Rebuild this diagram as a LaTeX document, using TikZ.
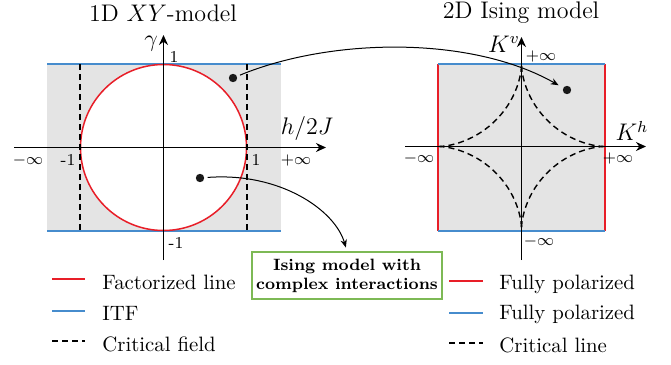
\documentclass[tikz,border=0pt]{standalone}
\usetikzlibrary{arrows.meta}
\definecolor{cred}{RGB}{232,30,40}
\definecolor{cblue}{RGB}{70,140,205}
\definecolor{cgray}{RGB}{228,228,228}
\definecolor{cgreen}{RGB}{125,185,85}
\begin{document}
\begin{tikzpicture}[x=0.5pt,y=-0.5pt,
  lw/.style={line width=0.75pt},
  axis/.style={line width=0.75pt,-{Stealth[length=5pt,width=4.5pt]}},
  crit/.style={line width=0.7pt,dash pattern=on 3pt off 2pt},
  dot/.style={circle,fill=black!90,inner sep=0pt,minimum size=4.2pt},
  conn/.style={line width=0.5pt,-{Stealth[length=4pt,width=3.2pt]}},
  title/.style={font=\fontsize{12}{14}\selectfont},
  lab/.style={font=\fontsize{11.5}{13}\selectfont,inner sep=0pt},
  tick/.style={font=\fontsize{8.3}{10}\selectfont,inner sep=0pt},
  legtext/.style={font=\fontsize{10.4}{12}\selectfont,anchor=west,inner sep=0pt},
  box/.style={draw=cgreen,line width=0.6pt,minimum width=95pt,minimum height=23.5pt,inner sep=0pt,align=center,font=\fontsize{8.2}{9.5}\selectfont\bfseries}
]
\useasboundingbox (0,0) rectangle (671,365);

% ---------- left panel ----------
\fill[cgray] (47,64) rectangle (281,231);
\fill[white] (163.5,147.5) circle (41.5pt);
\draw[cblue,lw] (47,64) -- (281,64);
\draw[cblue,lw] (47,231) -- (281,231);
\draw[cred,lw] (163.5,147.5) circle (41.5pt);
\draw[crit] (80,64) -- (80,231);
\draw[crit] (247,64) -- (247,231);
\draw[axis] (14,147.5) -- (326,147.5);
\draw[axis] (163.5,260) -- (163.5,35);

\node[title] (t1) at (163,13) {1D $XY$-model};
\node[lab] (gam) at (151,44) {$\gamma$};
\node[tick] (l1a) at (174,57) {1};
\node[lab] (hJ) at (307,128) {$h/2J$};
\node[tick] (lmi) at (28,160) {$-\infty$};
\node[tick] (lm1) at (68,160) {-1};
\node[tick] (lp1) at (256,160) {1};
\node[tick] (lpi) at (296,160) {$+\infty$};
\node[tick] (lm1b) at (176,243) {-1};

% ---------- right panel ----------
\fill[cgray] (438,64) rectangle (605,231);
\foreach \sx/\sy in {1/1,-1/1,-1/-1,1/-1}{
  \draw[crit] plot[domain=0.5:89.5,samples=70]
    ({521.5+\sx*83*cos(\x)^3.33},{146.5-\sy*82*sin(\x)^3.33});
}
\draw[cred,lw] (438,64) -- (438,231);
\draw[cred,lw] (605,64) -- (605,231);
\draw[cblue,lw] (438,64) -- (605,64);
\draw[cblue,lw] (438,231) -- (605,231);
\draw[axis] (405,146.5) -- (646,146.5);
\draw[axis] (521.5,260) -- (521.5,37);

\node[title] (t2) at (521,13) {2D Ising model};
\node[lab] (Kv) at (504,44) {$K^v$};
\node[tick] (rpi) at (541,56) {$+\infty$};
\node[lab] (Kh) at (632,131) {$K^h$};
\node[tick] (rmi) at (419,158) {$-\infty$};
\node[tick] (rpi2) at (618,158) {$+\infty$};
\node[tick] (rmi2) at (539,241) {$-\infty$};

% ---------- points and connectors ----------
\node[dot] (dA) at (233,78) {};
\node[dot] (dB) at (567,90) {};
\node[dot] (dC) at (200,178) {};
\node[box] (box) at (347,275.5) {Ising model with\\complex interactions};

\draw[conn,shorten <=1.5pt,shorten >=2.5pt] (dA) .. controls (330,38) and (470,35) .. (dB);
\draw[conn,shorten <=1.5pt,shorten >=2pt] (dC) .. controls (280,172) and (335,210) .. (box.north);

% ---------- legends ----------
\draw[cred,lw] (52,279) -- (85,279);
\node[legtext] (lg1) at (102,282) {Factorized line};
\draw[cblue,lw] (52,311) -- (85,311);
\node[legtext] (lg2) at (102,313) {ITF};
\draw[crit] (52,341) -- (85,341);
\node[legtext] (lg3) at (102,344) {Critical field};

\draw[cred,lw] (449,281) -- (483,281);
\node[legtext] (rg1) at (499,284) {Fully polarized};
\draw[cblue,lw] (449,313) -- (483,313);
\node[legtext] (rg2) at (499,314) {Fully polarized};
\draw[crit] (449,343) -- (483,343);
\node[legtext] (rg3) at (499,345) {Critical line};
\end{tikzpicture}
\end{document}
